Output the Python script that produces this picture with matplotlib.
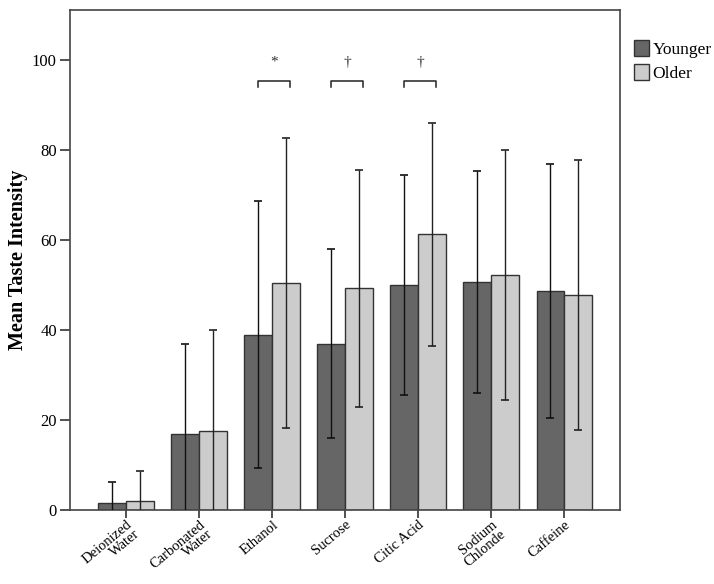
import matplotlib
matplotlib.use("Agg")
import matplotlib.pyplot as plt
import numpy as np

categories = ["Deionized\nWater", "Carbonated\nWater", "Ethanol", "Sucrose",
              "Citic Acid", "Sodium\nChlonde", "Caffeine"]
younger = [1.6, 17.0, 39.0, 37.0, 50.0, 50.7, 48.6]
older = [2.1, 17.7, 50.4, 49.3, 61.2, 52.2, 47.8]
younger_sd = [4.8, 20.0, 29.7, 20.9, 24.3, 24.6, 28.2]
older_sd = [6.6, 22.3, 32.1, 26.3, 24.7, 27.8, 30.0]
sig_idx = [2, 3, 4]
sig_marks = ["*", "\u2020", "\u2020"]
yticks = [0, 20, 40, 60, 80, 100]

plt.rcParams['font.family'] = ['Liberation Serif', 'DejaVu Serif']

fig = plt.figure(figsize=(7.14, 5.84), dpi=100)
ax = fig.add_axes([0.098, 0.126, 0.771, 0.857])

x = np.arange(len(categories))
w = 0.38
yc, oc = "#666666", "#cccccc"
ax.bar(x - w/2, younger, w, color=yc, edgecolor="#333333", linewidth=1.0, label="Younger", zorder=2)
ax.bar(x + w/2, older, w, color=oc, edgecolor="#333333", linewidth=1.0, label="Older", zorder=2)

ax.errorbar(x - w/2, younger, yerr=younger_sd, fmt="none", ecolor="#111111",
            elinewidth=1.0, capsize=3, capthick=1.2, zorder=3)
ax.errorbar(x + w/2, older, yerr=older_sd, fmt="none", ecolor="#222222",
            elinewidth=1.0, capsize=3, capthick=1.2, zorder=3)

for i, m in zip(sig_idx, sig_marks):
    x0, x1 = i - 0.19, i + 0.24
    ax.plot([x0, x0, x1, x1], [93.8, 95.3, 95.3, 93.8], color="#222222", lw=1.1, zorder=3)
    ax.text((x0 + x1) / 2, 98.0, m, ha="center", va="bottom", fontsize=11, color="#333333")

ax.set_xlim(-0.77, 6.77)
ax.set_ylim(0, 111)
ax.set_yticks(yticks)
ax.set_yticklabels([str(t) for t in yticks], fontsize=12)
ax.set_xticks(x)
ax.set_xticklabels(categories, rotation=40, ha="right", rotation_mode="anchor",
                   multialignment="right", fontsize=10.5, linespacing=0.95)
ax.tick_params(axis="y", direction="out", length=7.5, width=1.2, color="#333333", pad=2)
ax.tick_params(axis="x", direction="out", length=5.5, width=1.2, color="#333333", pad=0)
for s in ax.spines.values():
    s.set_color("#444444")
    s.set_linewidth(1.2)
ax.set_ylabel("Mean Taste Intensity", fontsize=14.5, fontweight="bold", labelpad=3)

leg = ax.legend(loc="upper left", bbox_to_anchor=(1.005, 0.96), frameon=False,
                fontsize=12.5, handlelength=0.9, handleheight=1.0, handletextpad=0.2,
                labelspacing=0.35, borderaxespad=0.2)

fig.savefig("out.png", dpi=100)
